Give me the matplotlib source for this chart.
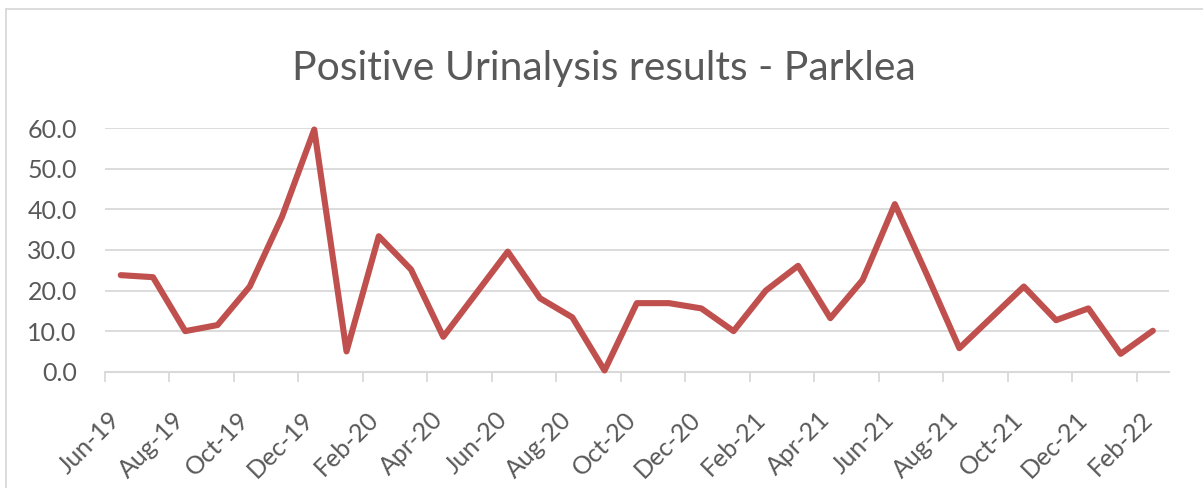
"""Positive Urinalysis results - Parklea: monthly line chart, Jun-19 to Feb-22."""
import numpy as np
import pandas as pd
import matplotlib
matplotlib.use("Agg")
import matplotlib.pyplot as plt
from matplotlib.patches import Rectangle
from matplotlib.transforms import ScaledTranslation

MONTHS = pd.date_range("2019-06-01", periods=33, freq="MS")
VALUES = [23.8, 23.3, 10.0, 11.5, 21.0, 38.2, 59.7, 5.0, 33.4, 25.2, 8.6,
          19.1, 29.6, 18.1, 13.4, 0.3, 16.9, 16.9, 15.6, 10.0, 20.0, 26.1,
          13.2, 22.6, 41.3, 23.8, 5.8, 13.4, 21.0, 12.7, 15.6, 4.4, 10.1]
YTICKS = [0, 10, 20, 30, 40, 50, 60]
TITLE = "Positive Urinalysis results - Parklea"

INK = "#595959"
GRID = "#D9D9D9"
RED = "#C0504D"

plt.rcParams["font.family"] = ["Lato", "DejaVu Sans"]

W, H, DPI = 1203, 488, 100
fig = plt.figure(figsize=(W / DPI, H / DPI), dpi=DPI)
ax = fig.add_axes([104.6 / W, 1 - 371.7 / H, (1169 - 104.6) / W, (371.7 - 128.3) / H])

# chart border (only top/left edges fall inside the crop)
fig.add_artist(Rectangle((6 / W, -0.1), 1.2, 1.1 - 9 / H, transform=fig.transFigure,
                         fill=False, edgecolor=GRID, lw=1.3))

x = np.arange(len(VALUES))
ax.plot(x, VALUES, color=RED, lw=4.4, solid_joinstyle="round", solid_capstyle="round",
        zorder=3, clip_on=False)

ax.set_xlim(-0.5, len(VALUES) - 0.5)
ax.set_ylim(0, 60)
ax.set_yticks(YTICKS)
ax.set_yticklabels([f"{v:.1f}" for v in YTICKS])
ax.yaxis.grid(True, color=GRID, lw=1.3)
ax.set_axisbelow(True)
for s in ("top", "right", "left"):
    ax.spines[s].set_visible(False)
ax.spines["bottom"].set_color(GRID)
ax.spines["bottom"].set_linewidth(1.5)
ax.tick_params(axis="y", length=0, pad=20, labelsize=18, labelcolor=INK)

tick_pos = np.arange(0, len(VALUES), 2) - 0.5
ax.set_xticks(tick_pos)
ax.set_xticklabels([MONTHS[i].strftime("%b-%y") for i in range(0, len(VALUES), 2)],
                   rotation=45, ha="right", va="top")
ax.tick_params(axis="x", length=7, width=1.3, color=GRID, pad=19, labelsize=18,
               labelcolor=INK)
off = ScaledTranslation(20 / DPI, 0, fig.dpi_scale_trans)
for lbl in ax.get_xticklabels():
    lbl.set_transform(lbl.get_transform() + off)

fig.text(604 / W, 1 - 80 / H, TITLE, ha="center", va="baseline", fontsize=29.4, color=INK)

fig.savefig("out.png", dpi=DPI, facecolor="white")
